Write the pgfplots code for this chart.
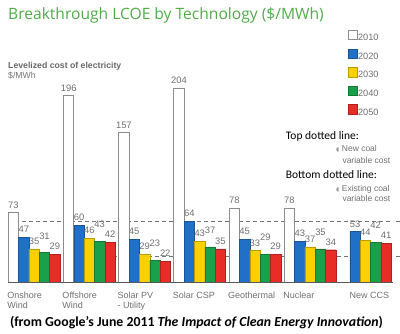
\documentclass[border=0pt]{standalone}
\usepackage{fontspec}
\setmainfont{Liberation Sans}
\newfontfamily\titlefont{Open Sans}
\newfontfamily\calfont{Carlito}
\newfontfamily\symfont{DejaVu Sans}
\usepackage{pgfplots}
\pgfplotsset{compat=1.18}
\definecolor{cblue}{RGB}{32,112,200}
\definecolor{cyellow}{RGB}{250,208,0}
\definecolor{cgreen}{RGB}{26,160,74}
\definecolor{cred}{RGB}{232,44,40}
\definecolor{ctitle}{RGB}{80,172,72}
\definecolor{ctext}{RGB}{112,112,112}
\pgfplotsset{
  sqlegend/.style={legend image code/.code={\draw[##1] (0pt,-1.6pt) rectangle (9.6pt,8pt);}},
  lbl/.style={nodes near coords, every node near coord/.append style={font=\fontsize{9.4}{9}\selectfont, color=ctext, anchor=base, yshift=#1}},
}
\begin{document}
\begin{tikzpicture}
\begin{axis}[
  at={(8pt,51pt)}, anchor=south west,
  x=55.2pt, y=0.95pt,
  xmin=-0.4737, xmax=6.501, ymin=0, ymax=215,
  axis lines=none, clip=false,
  ybar, bar width=10.34pt,
  /pgf/number format/assume math mode=true,
  legend style={at={(axis description cs:0.8823,1.2343)}, anchor=north west, draw=none, fill=none,
    inner sep=0pt, outer sep=0pt, font=\fontsize{9.2}{9}\selectfont, text=ctext,
    row sep=6.4pt, nodes={inner sep=0pt},
    /tikz/every even column/.append style={column sep=8.4pt}},
  legend cell align=left,
]
\addplot[sharp plot, draw=black!55, dash pattern=on 4pt off 3pt, line width=0.7pt, forget plot] coordinates {(-0.4737,64) (6.501,64)};
\addplot[sharp plot, draw=black!55, dash pattern=on 4pt off 3pt, line width=0.7pt, forget plot] coordinates {(-0.4737,27) (6.501,27)};
\addplot[sharp plot, draw=black!55, line width=0.7pt, forget plot] coordinates {(6.56,64) (6.62,64)};
\addplot[sharp plot, draw=black!55, line width=0.7pt, forget plot] coordinates {(6.56,27) (6.62,27)};

\addplot[fill=white, draw=black!45, line width=0.8pt, bar shift=-20.68pt, lbl=4.5pt, sqlegend]
  coordinates {(0,73) (1,196) (2,157) (3,204) (4,78) (5,78)};
\addplot[fill=cblue, draw=cblue!75!black, line width=0.4pt, bar shift=-10.34pt, lbl=4.5pt, sqlegend]
  coordinates {(0,47) (1,60) (2,45) (3,64) (4,45) (5,43) (6,53)};
\addplot[fill=cyellow, draw=cyellow!75!black, line width=0.4pt, bar shift=0pt, lbl=4.5pt, sqlegend]
  coordinates {(0,35) (1,46) (2,29) (3,43) (4,33) (5,37) (6,44)};
\addplot[fill=cgreen, draw=cgreen!75!black, line width=0.4pt, bar shift=10.34pt, lbl=13.5pt, sqlegend]
  coordinates {(0,31) (1,43) (2,23) (3,37) (4,29) (5,35) (6,42)};
\addplot[fill=cred, draw=cred!75!black, line width=0.4pt, bar shift=20.68pt, lbl=4.5pt, sqlegend]
  coordinates {(0,29) (1,42) (2,22) (3,35) (4,29) (5,34) (6,41)};
\legend{2010,2020,2030,2040,2050}

\addplot[sharp plot, draw=black!65, line width=1pt, forget plot] coordinates {(-0.4737,0) (6.501,0)};

\foreach \i/\a/\b in {0/Onshore/Wind, 1/Offshore/Wind, 2/Solar PV/- Utility, 3/Solar CSP/, 4/Geothermal/, 5/Nuclear/} {
  \edef\temp{\noexpand\node[anchor=base west, inner sep=0pt, font=\noexpand\fontsize{9}{9}\noexpand\selectfont, text=ctext] at (axis cs:\i-0.49,0) [yshift=-16pt] {\a};
    \noexpand\node[anchor=base west, inner sep=0pt, font=\noexpand\fontsize{9}{9}\noexpand\selectfont, text=ctext] at (axis cs:\i-0.49,0) [yshift=-26pt] {\b};}
  \temp
}
\node[anchor=base west, inner sep=0pt, font=\fontsize{9}{9}\selectfont, text=ctext] at (axis cs:5.71,0) [yshift=-16pt] {New CCS};
\end{axis}

\node[anchor=base west, inner sep=0pt, font=\titlefont\fontsize{15.6}{16}\selectfont, text=ctitle] at (8pt,313pt) {Breakthrough LCOE by Technology (\$/MWh)};
\node[anchor=base west, inner sep=0pt, font=\bfseries\fontsize{8.7}{9}\selectfont, text=black!60] at (8pt,265pt) {Levelized cost of electricity};
\node[anchor=base west, inner sep=0pt, font=\fontsize{8.7}{9}\selectfont, text=black!55] at (8pt,254.5pt) {\$/MWh};

\node[anchor=base west, inner sep=0pt, font=\calfont\fontsize{11.5}{12}\selectfont] at (285.7pt,193.7pt) {Top dotted line:};
\node[anchor=base west, inner sep=0pt, font=\fontsize{8.5}{9}\selectfont, text=ctext] at (341.7pt,181.3pt) {New coal};
\node[anchor=base west, inner sep=0pt, font=\fontsize{8.5}{9}\selectfont, text=ctext] at (342.3pt,169.7pt) {variable cost};
\node[anchor=base east, inner sep=0pt, font=\symfont\fontsize{6}{6}\selectfont, text=black!40] at (339.5pt,182pt) {◖};
\node[anchor=base west, inner sep=0pt, font=\calfont\fontsize{11.5}{12}\selectfont] at (285.7pt,154.7pt) {Bottom dotted line:};
\node[anchor=base west, inner sep=0pt, font=\fontsize{8.5}{9}\selectfont, text=ctext] at (341.7pt,141.3pt) {Existing coal};
\node[anchor=base west, inner sep=0pt, font=\fontsize{8.5}{9}\selectfont, text=ctext] at (342.3pt,131.3pt) {variable cost};
\node[anchor=base east, inner sep=0pt, font=\symfont\fontsize{6}{6}\selectfont, text=black!40] at (339.5pt,142pt) {◖};

\node[anchor=base, inner sep=0pt, font=\calfont\bfseries\fontsize{13.8}{14}\selectfont] at (196.5pt,6.5pt) {(from Google’s June 2011 \textit{The Impact of Clean Energy Innovation})};

\pgfresetboundingbox
\path (0pt,0pt) rectangle (400pt,333pt);
\end{tikzpicture}
\end{document}
